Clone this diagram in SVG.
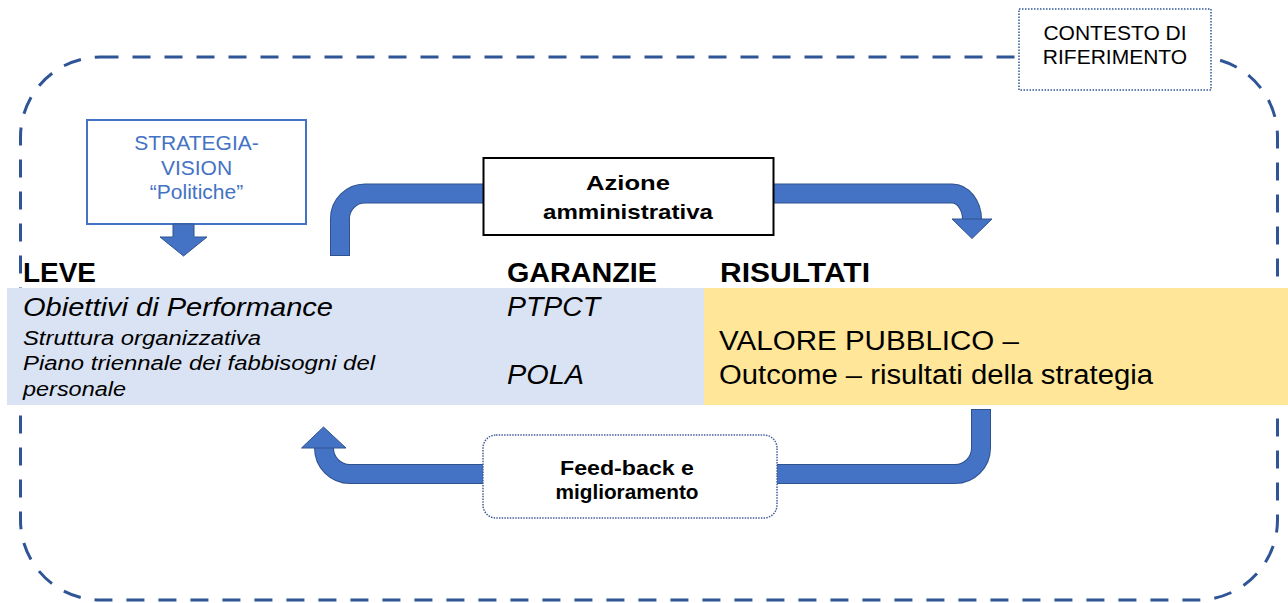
<svg xmlns="http://www.w3.org/2000/svg" width="1288" height="603" viewBox="0 0 1288 603">
<style>
  text { font-family: "Liberation Sans", Arial, sans-serif; fill: #000; }
  .b { font-weight: bold; }
  .i { font-style: italic; }
  .blue { fill: #4472C4; }
  .arrow-out { fill: none; stroke: #2F528F; stroke-width: 20; }
  .arrow-in { fill: none; stroke: #4472C4; stroke-width: 18; }
  .head { fill: #4472C4; stroke: #2F528F; stroke-width: 1; stroke-linejoin: miter; }
</style>
<rect width="1288" height="603" fill="#fff"/>

<g id="contesto">
  <rect x="20.5" y="57" width="1257" height="543" rx="80" ry="80" fill="none" stroke="#2F5597" stroke-width="3" stroke-dasharray="18 14"/>
  <rect x="1019" y="9" width="192" height="81" fill="#fff" stroke="#2F5597" stroke-width="1.5" stroke-dasharray="1.5 1.5"/>
  <text x="1115" y="40" font-size="21" text-anchor="middle">CONTESTO DI</text>
  <text x="1115" y="64" font-size="21" text-anchor="middle">RIFERIMENTO</text>
</g>

<g id="bands">
  <rect x="7" y="288" width="697" height="117" fill="#DAE3F3"/>
  <rect x="704" y="288" width="584" height="117" fill="#FFE699"/>
</g>

<g id="strategia">
  <rect x="87" y="120" width="219" height="104" fill="#fff" stroke="#4472C4" stroke-width="2"/>
  <text class="blue" x="196.5" y="150" font-size="21" text-anchor="middle">STRATEGIA-</text>
  <text class="blue" x="196.5" y="175" font-size="21" text-anchor="middle">VISION</text>
  <text class="blue" x="196.5" y="199" font-size="21" text-anchor="middle">“Politiche”</text>
</g>

<g id="leve">
  <text class="b" x="23" y="281.5" font-size="27" textLength="73" lengthAdjust="spacingAndGlyphs">LEVE</text>
  <text class="i" x="23" y="316" font-size="26" textLength="310" lengthAdjust="spacingAndGlyphs">Obiettivi di Performance</text>
  <text class="i" x="23" y="345" font-size="20" textLength="238" lengthAdjust="spacingAndGlyphs">Struttura organizzativa</text>
  <text class="i" x="23" y="369.5" font-size="20" textLength="352" lengthAdjust="spacingAndGlyphs">Piano triennale dei fabbisogni del</text>
  <text class="i" x="23" y="396" font-size="20" textLength="103" lengthAdjust="spacingAndGlyphs">personale</text>
</g>

<g id="garanzie">
  <text class="b" x="507" y="281.5" font-size="27" textLength="150" lengthAdjust="spacingAndGlyphs">GARANZIE</text>
  <text class="i" x="507" y="316" font-size="27" textLength="93" lengthAdjust="spacingAndGlyphs">PTPCT</text>
  <text class="i" x="507" y="383.5" font-size="27" textLength="77" lengthAdjust="spacingAndGlyphs">POLA</text>
</g>

<g id="risultati">
  <text class="b" x="720" y="281.5" font-size="27" textLength="150" lengthAdjust="spacingAndGlyphs">RISULTATI</text>
  <text x="719" y="349.5" font-size="27" textLength="300" lengthAdjust="spacingAndGlyphs">VALORE PUBBLICO –</text>
  <text x="719" y="383.5" font-size="27" textLength="434" lengthAdjust="spacingAndGlyphs">Outcome – risultati della strategia</text>
</g>

<g id="connectors">
  <!-- strategia down arrow -->
  <polygon class="head" points="173,224 194,224 194,237 207,237 183.5,256 160,237 173,237"/>
  <!-- top left leg into azione -->
  <path class="arrow-out" d="M340,256 L340,218.5 A25,25 0 0 1 365,193.5 L490,193.5"/>
  <path class="arrow-in" d="M340,255 L340,218.5 A25,25 0 0 1 365,193.5 L490,193.5"/>
  <!-- top right from azione to risultati -->
  <path class="arrow-out" d="M765,193.5 L952,193.5 A20,26 0 0 1 972,219.5"/>
  <path class="arrow-in" d="M765,193.5 L952,193.5 A20,26 0 0 1 972,219.5"/>
  <polygon class="head" points="952,219 992,219 972,238.5"/>
  <!-- bottom right from risultati to feedback -->
  <path class="arrow-out" d="M981,409 L981,448 A26,26 0 0 1 955,474 L770,474"/>
  <path class="arrow-in" d="M981,410 L981,448 A26,26 0 0 1 955,474 L770,474"/>
  <!-- bottom left from feedback to leve -->
  <path class="arrow-out" d="M490,474 L350,474 A26,26 0 0 1 324,448 L324,447"/>
  <path class="arrow-in" d="M490,474 L350,474 A26,26 0 0 1 324,448 L324,447"/>
  <polygon class="head" points="301.5,448 346,448 323.5,427"/>
</g>

<g id="azione">
  <rect x="483.5" y="158" width="290" height="77" fill="#fff" stroke="#000" stroke-width="2"/>
  <text class="b" x="628" y="190" font-size="21" text-anchor="middle" textLength="84" lengthAdjust="spacingAndGlyphs">Azione</text>
  <text class="b" x="628" y="218.5" font-size="21" text-anchor="middle" textLength="170" lengthAdjust="spacingAndGlyphs">amministrativa</text>
</g>

<g id="feedback">
  <rect x="483" y="435" width="294" height="83" rx="13" ry="13" fill="#fff" stroke="#44609A" stroke-width="1.5" stroke-dasharray="1.5 1.2"/>
  <text class="b" x="627" y="475" font-size="20" text-anchor="middle" textLength="134" lengthAdjust="spacingAndGlyphs">Feed-back e</text>
  <text class="b" x="627" y="498.5" font-size="20" text-anchor="middle" textLength="143" lengthAdjust="spacingAndGlyphs">miglioramento</text>
</g>
</svg>
